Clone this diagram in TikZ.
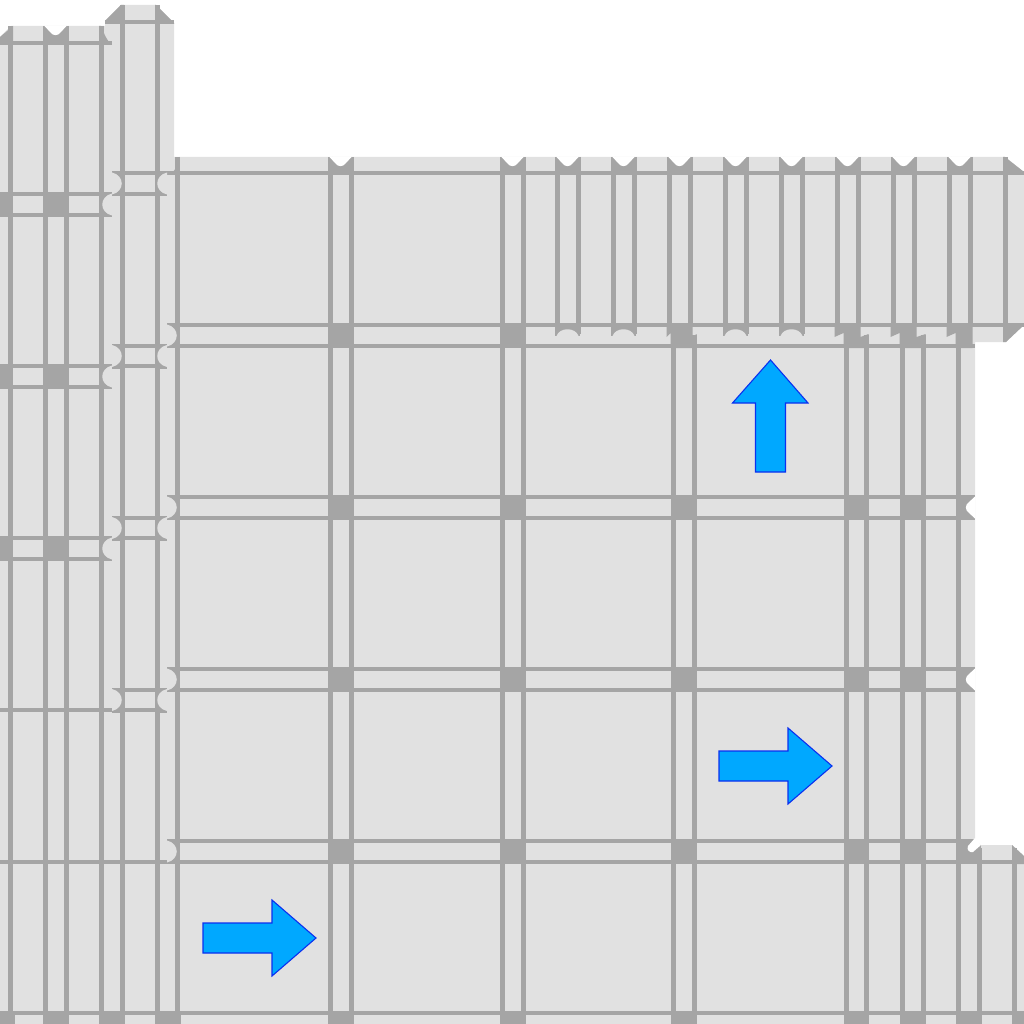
\documentclass[tikz,border=0pt]{standalone}
\usepackage{xcolor}
\definecolor{blockgrey}{RGB}{225,225,225}
\definecolor{linegrey}{RGB}{165,165,165}
\definecolor{flowfill}{RGB}{0,168,255}
\definecolor{flowedge}{RGB}{10,48,240}
\newcommand{\biteend}[5]{%
    \fill[linegrey, shift={(#1,#2)}, rotate=#3] (0,-12.5) rectangle (#4,12.5);
    \fill[#5, shift={(#1,#2)}, rotate=#3] (0,-11) -- (6.5,-5) .. controls (10,-2.5) and (10,2.5) .. (6.5,5) -- (0,11) -- cycle;
}
\newcommand{\roundend}[6]{%
    \fill[linegrey, shift={(#1,#2)}, rotate=#3] (0,-12.5) rectangle (#4,12.5);
    \fill[#6, shift={(#1,#2)}, rotate=#3] (0,-11) .. controls (#5,-8) and (#5,8) .. (0,11) -- cycle;
}
\newcommand{\jogbox}[4]{%
    \fill[linegrey] (#1-2.5,323) -- (#2+2.5,323) -- (#2+2.5,337) -- (#4+2.5,334) -- (#4+2.5,348) -- (#3-2.5,348) -- (#3-2.5,333) -- (#1-2.5,337) -- cycle;
}
\begin{document}
\begin{tikzpicture}[x=1pt, y=-1pt,
    wall/.style={line width=5pt, linegrey},
    rail/.style={line width=4.8pt, linegrey},
    joint/.style={linegrey},
    flow/.style={draw=flowedge, fill=flowfill, line width=1.1pt, miter limit=4}
]
    \useasboundingbox (0,0) rectangle (1024,1024);
    \clip (0,0) rectangle (1024,1024);
    \fill[blockgrey] (0,37) -- (11,26) -- (105,26) -- (105,21) -- (121,5) -- (156,5) -- (174,23) -- (174,157)
        -- (1005,157) -- (1024,172) -- (1024,325) -- (1006,342) -- (975,342) -- (975,840) -- (981,845)
        -- (1012,845) -- (1024,856) -- (1024,1024) -- (0,1024) -- cycle;

    % columns
    \foreach \x in {10,45,66,101} \draw[wall] (\x,26) -- (\x,1024);
    \foreach \x in {122,157} \draw[wall] (\x,5) -- (\x,1024);
    \foreach \x in {177.5,330,351,502,523} \draw[wall] (\x,157) -- (\x,1024);
    \foreach \x in {557,578,613,634,725,746,781,802} \draw[wall] (\x,157) -- (\x,334);
    \foreach \x in {669,690,837,858,893,914,949,970,1005} \draw[wall] (\x,157) -- (\x,325);
    \foreach \x in {673,694,846,866,902,923} \draw[wall] (\x,335) -- (\x,1024);
    \draw[wall] (958,342) -- (958,1024);
    \foreach \x in {979,1014} \draw[wall] (\x,848) -- (\x,1024);

    % rows
    \foreach \y/\a/\b in {22/105/174, 43/0/112, 173/112/1024, 194/0/167, 215/0/112,
        325/167/1024, 346/112/975, 366/0/167, 387/0/112, 497/167/975, 518/112/975,
        538/0/167, 559/0/112, 669/167/975, 690/112/975, 710/0/167, 841/167/970,
        862/0/1024, 1013/0/1024}
        \draw[rail] (\a,\y) -- (\b,\y);

    % crossings
    \foreach \y in {194,366,538} {
        \fill[joint] (0,\y-2) rectangle (12.5,\y+23);
        \fill[joint] (42.5,\y-2) rectangle (68.5,\y+23);
    }
    \foreach \xa/\xb in {330/351,502/523} \fill[joint] (\xa-2.5,323) rectangle (\xb+2.5,348);
    \foreach \y in {497,669,841} \foreach \xa/\xb in {330/351,502/523,673/694,846/866,902/923}
        \fill[joint] (\xa-2.5,\y-2) rectangle (\xb+2.5,\y+23);
    \fill[joint] (956,839) rectangle (975,864);
    \fill[joint] (975,845) rectangle (981,864);
    \foreach \xa/\xb in {-10/12,45/66,101/122,157/178,330/351,502/523,673/694,846/866,902/923,958/979,1014/1034}
        \fill[joint] (\xa-2.5,1011) rectangle (\xb+2.5,1024);
    \jogbox{669}{690}{673}{694}
    \jogbox{837}{858}{846}{866}
    \jogbox{893}{914}{902}{923}
    \jogbox{949}{970}{958}{970}

    % corners
    \fill[joint] (13,26) -- (0,37) -- (0,45) -- (13,45) -- cycle;
    \fill[joint] (99,26) -- (101,26) .. controls (104,33) and (106,40) .. (112,45) -- (99,45) -- cycle;
    \fill[joint] (124,5) -- (121,5) -- (105,21) -- (105,24) -- (124,24) -- cycle;
    \fill[joint] (155,5) -- (156,5) -- (174,23) -- (174,24) -- (155,24) -- cycle;
    \fill[joint] (179,157) .. controls (178,163) and (176,169) .. (173,172) -- (173,175) -- (179,175) -- cycle;
    \fill[joint] (1003,157) -- (1005,157) -- (1024,172) -- (1024,175) -- (1003,175) -- cycle;
    \fill[joint] (1003,323) -- (1024,323) -- (1024,325) -- (1006,342) -- (1003,342) -- cycle;
    \fill[joint] (1012,845) -- (1024,856) -- (1024,864) -- (1012,864) -- cycle;
    \fill[white] (975,838) -- (968,846) .. controls (966,850) and (970,853) .. (973,852) -- (981,845) -- cycle;

    % ends of the rows and columns
    \foreach \x in {340.5,512.5,567.5,623.5,679.5,735.5,791.5,847.5,903.5,959.5} {
        \biteend{\x}{157}{270}{16}{white}
    }
    \biteend{55.5}{26}{270}{17}{white}
    \foreach \x in {567.5,623.5,735.5,791.5} {
        \roundend{\x}{336}{90}{11}{9}{blockgrey}
    }
    \foreach \y in {204.5,376.5,548.5} {
        \roundend{112}{\y}{180}{11}{13}{blockgrey}
    }
    \foreach \y in {183.5,356,528,700} {
        \roundend{112}{\y}{0}{10}{13}{blockgrey}
        \roundend{167}{\y}{180}{10}{13}{blockgrey}
    }
    \foreach \y in {335.5,507.5,679.5,851.5} {
        \roundend{167}{\y}{0}{11}{13}{blockgrey}
    }
    \foreach \y in {507.5,679.5} {
        \biteend{975}{\y}{180}{17}{white}
    }

    % flow arrows
    \foreach \x/\y in {719/766,203/938}
        \draw[flow, shift={(\x,\y)}] (0,-15) -- (69,-15) -- (69,-38) -- (113,0) -- (69,38) -- (69,15) -- (0,15) -- cycle;
    \draw[flow] (755.5,472) -- (755.5,403) -- (732.5,403) -- (770.5,360) -- (808,403) -- (785.5,403) -- (785.5,472) -- cycle;
\end{tikzpicture}
\end{document}
